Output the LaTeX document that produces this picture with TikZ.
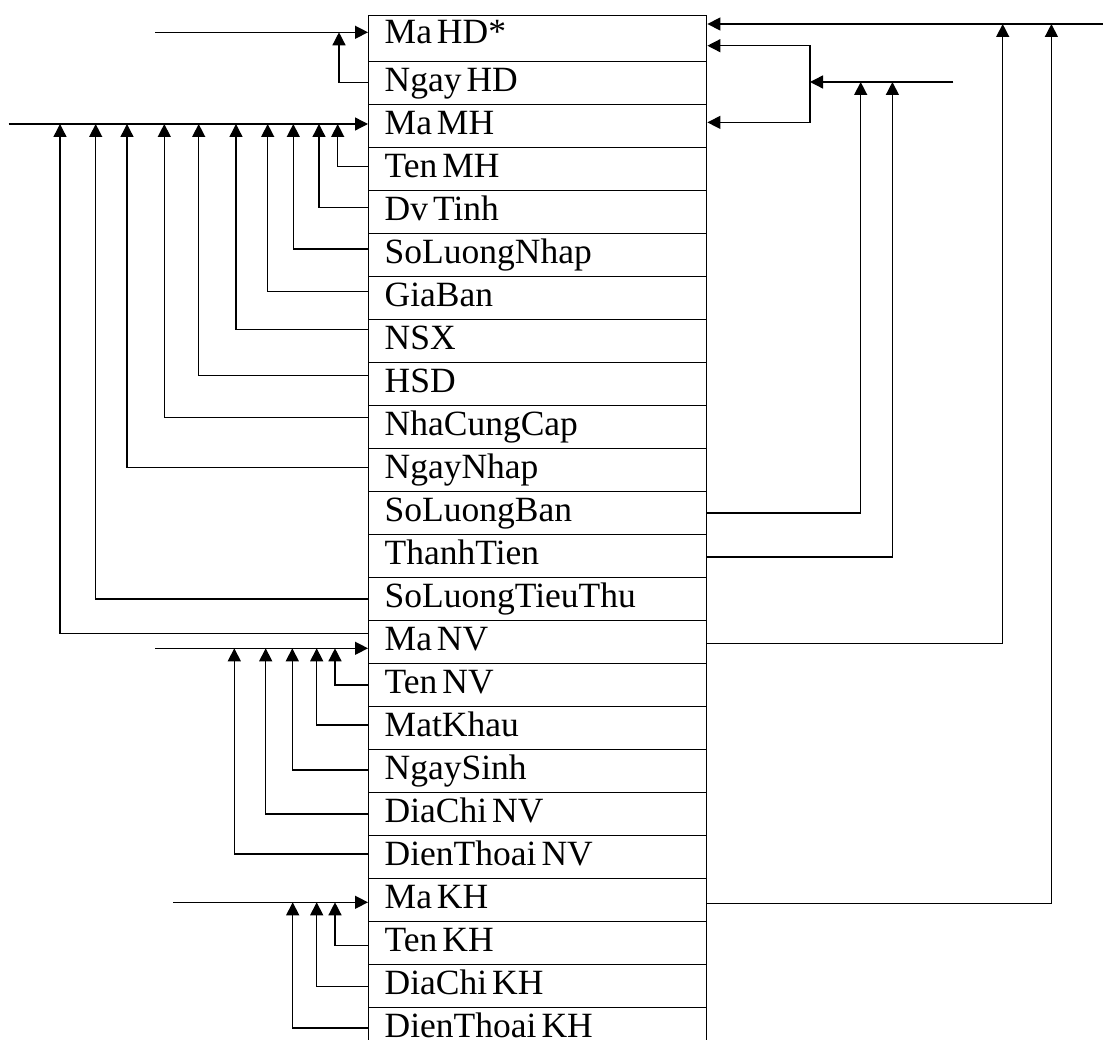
\documentclass[tikz,border=0pt]{standalone}
\usepackage{fontspec}
\setmainfont{Liberation Serif}
\usetikzlibrary{arrows.meta,calc}
\newcommand\fieldfont{\fontsize{35.5}{40}\selectfont}
\newcommand\tightspace{\spaceskip 5pt plus 1pt\relax\xspaceskip 5pt plus 1pt\relax}
\tikzset{
  field/.style={draw, line width=1.4pt, minimum height=43pt, text width=306pt,
    inner xsep=16pt, inner ysep=5.5pt, text height=24pt, text depth=8pt,
    align=left, font=\fieldfont, anchor=north west,
    execute at begin node=\tightspace},
  conn/.style={line width=1.4pt},
  arr/.style={conn, -{Triangle[length=13pt,width=13pt]}},
}
\begin{document}
\begin{tikzpicture}[x=1pt,y=-1pt]
\useasboundingbox (0,0) rectangle (1103,1040);
% rows
\node[field, minimum height=46.3pt, text height=23.1pt, text depth=12.2pt] (r0) at (368,14.7) {Ma HD*};
\foreach \k/\t in {1/Ngay HD, 2/Ma MH, 3/Ten MH, 4/Dv Tinh, 5/SoLuongNhap, 6/GiaBan,
  7/NSX, 8/HSD, 9/NhaCungCap, 10/NgayNhap, 11/SoLuongBan, 12/ThanhTien,
  13/SoLuongTieuThu, 14/Ma NV, 15/Ten NV, 16/MatKhau, 17/NgaySinh, 18/DiaChi NV,
  19/DienThoai NV, 20/Ma KH, 21/Ten KH, 22/DiaChi KH, 23/DienThoai KH}
  \node[field] (r\k) at (368,{61+(\k-1)*43}) {\t};

% bus coordinates
\coordinate (inHD) at (155,32.3);
\coordinate (busMH) at (8.7,124);
\coordinate (inNV) at (155,648.3);
\coordinate (inKH) at (173.3,902.3);
\coordinate (busTop) at (1103,24);
\coordinate (feed) at (953.3,82);
\coordinate (brk) at (810,82);

% left: Ma HD
\draw[arr] (inHD) -- (inHD -| r0.west);
\draw[arr] ([yshift=0.5pt]r1.west) -| ($(inHD -| r0.west)+(-29,0)$);

% left: Ma MH
\draw[arr] (busMH) -- (busMH -| r2.west);
\foreach \r/\dx/\dy in {3/-30.3/2.8, 4/-49/4.8, 5/-74.7/6.2, 6/-100.3/6.8,
  7/-132/11.8, 8/-169.3/8.8, 9/-203.7/9.5, 10/-241/2.8, 13/-272.3/0.2, 14/-308/8.8}
  \draw[arr] ([yshift=\dy pt]r\r.west) -| ($(busMH -| r2.west)+(\dx,0)$);

% left: Ma NV
\draw[arr] (inNV) -- (inNV -| r14.west);
\foreach \r/\dx/\dy in {15/-33/0.2, 16/-51.3/3.2, 17/-75.7/1.2, 18/-102.3/0.2, 19/-133.7/3.2}
  \draw[arr] ([yshift=\dy pt]r\r.west) -| ($(inNV -| r14.west)+(\dx,0)$);

% left: Ma KH
\draw[arr] (inKH) -- (inKH -| r20.west);
\foreach \r/\dx/\dy in {21/-33/-2.5, 22/-51.3/-0.2, 23/-75.3/1.2}
  \draw[arr] ([yshift=\dy pt]r\r.west) -| ($(inKH -| r20.west)+(\dx,0)$);

% right: top bus into Ma HD*
\draw[arr] (busTop) -- (busTop -| r0.east);
\draw[arr] ([yshift=-1.2pt]r14.east) -| ($(busTop -| r0.east)+(295.3,0)$);
\draw[arr] ([yshift=-3.2pt]r20.east) -| ($(busTop -| r0.east)+(344,0)$);

% right: bracket into Ma HD* and Ma MH
\draw[arr] (feed) -- (brk);
\draw[arr] (brk) |- ([yshift=-7.15pt]r0.east);
\draw[arr] (brk) |- ([yshift=3.8pt]r2.east);
\draw[arr] ([yshift=0.2pt]r11.east) -| ($(feed -| r0.east)+(153.3,0)$);
\draw[arr] ([yshift=-0.8pt]r12.east) -| ($(feed -| r0.east)+(185,0)$);
\end{tikzpicture}
\end{document}
